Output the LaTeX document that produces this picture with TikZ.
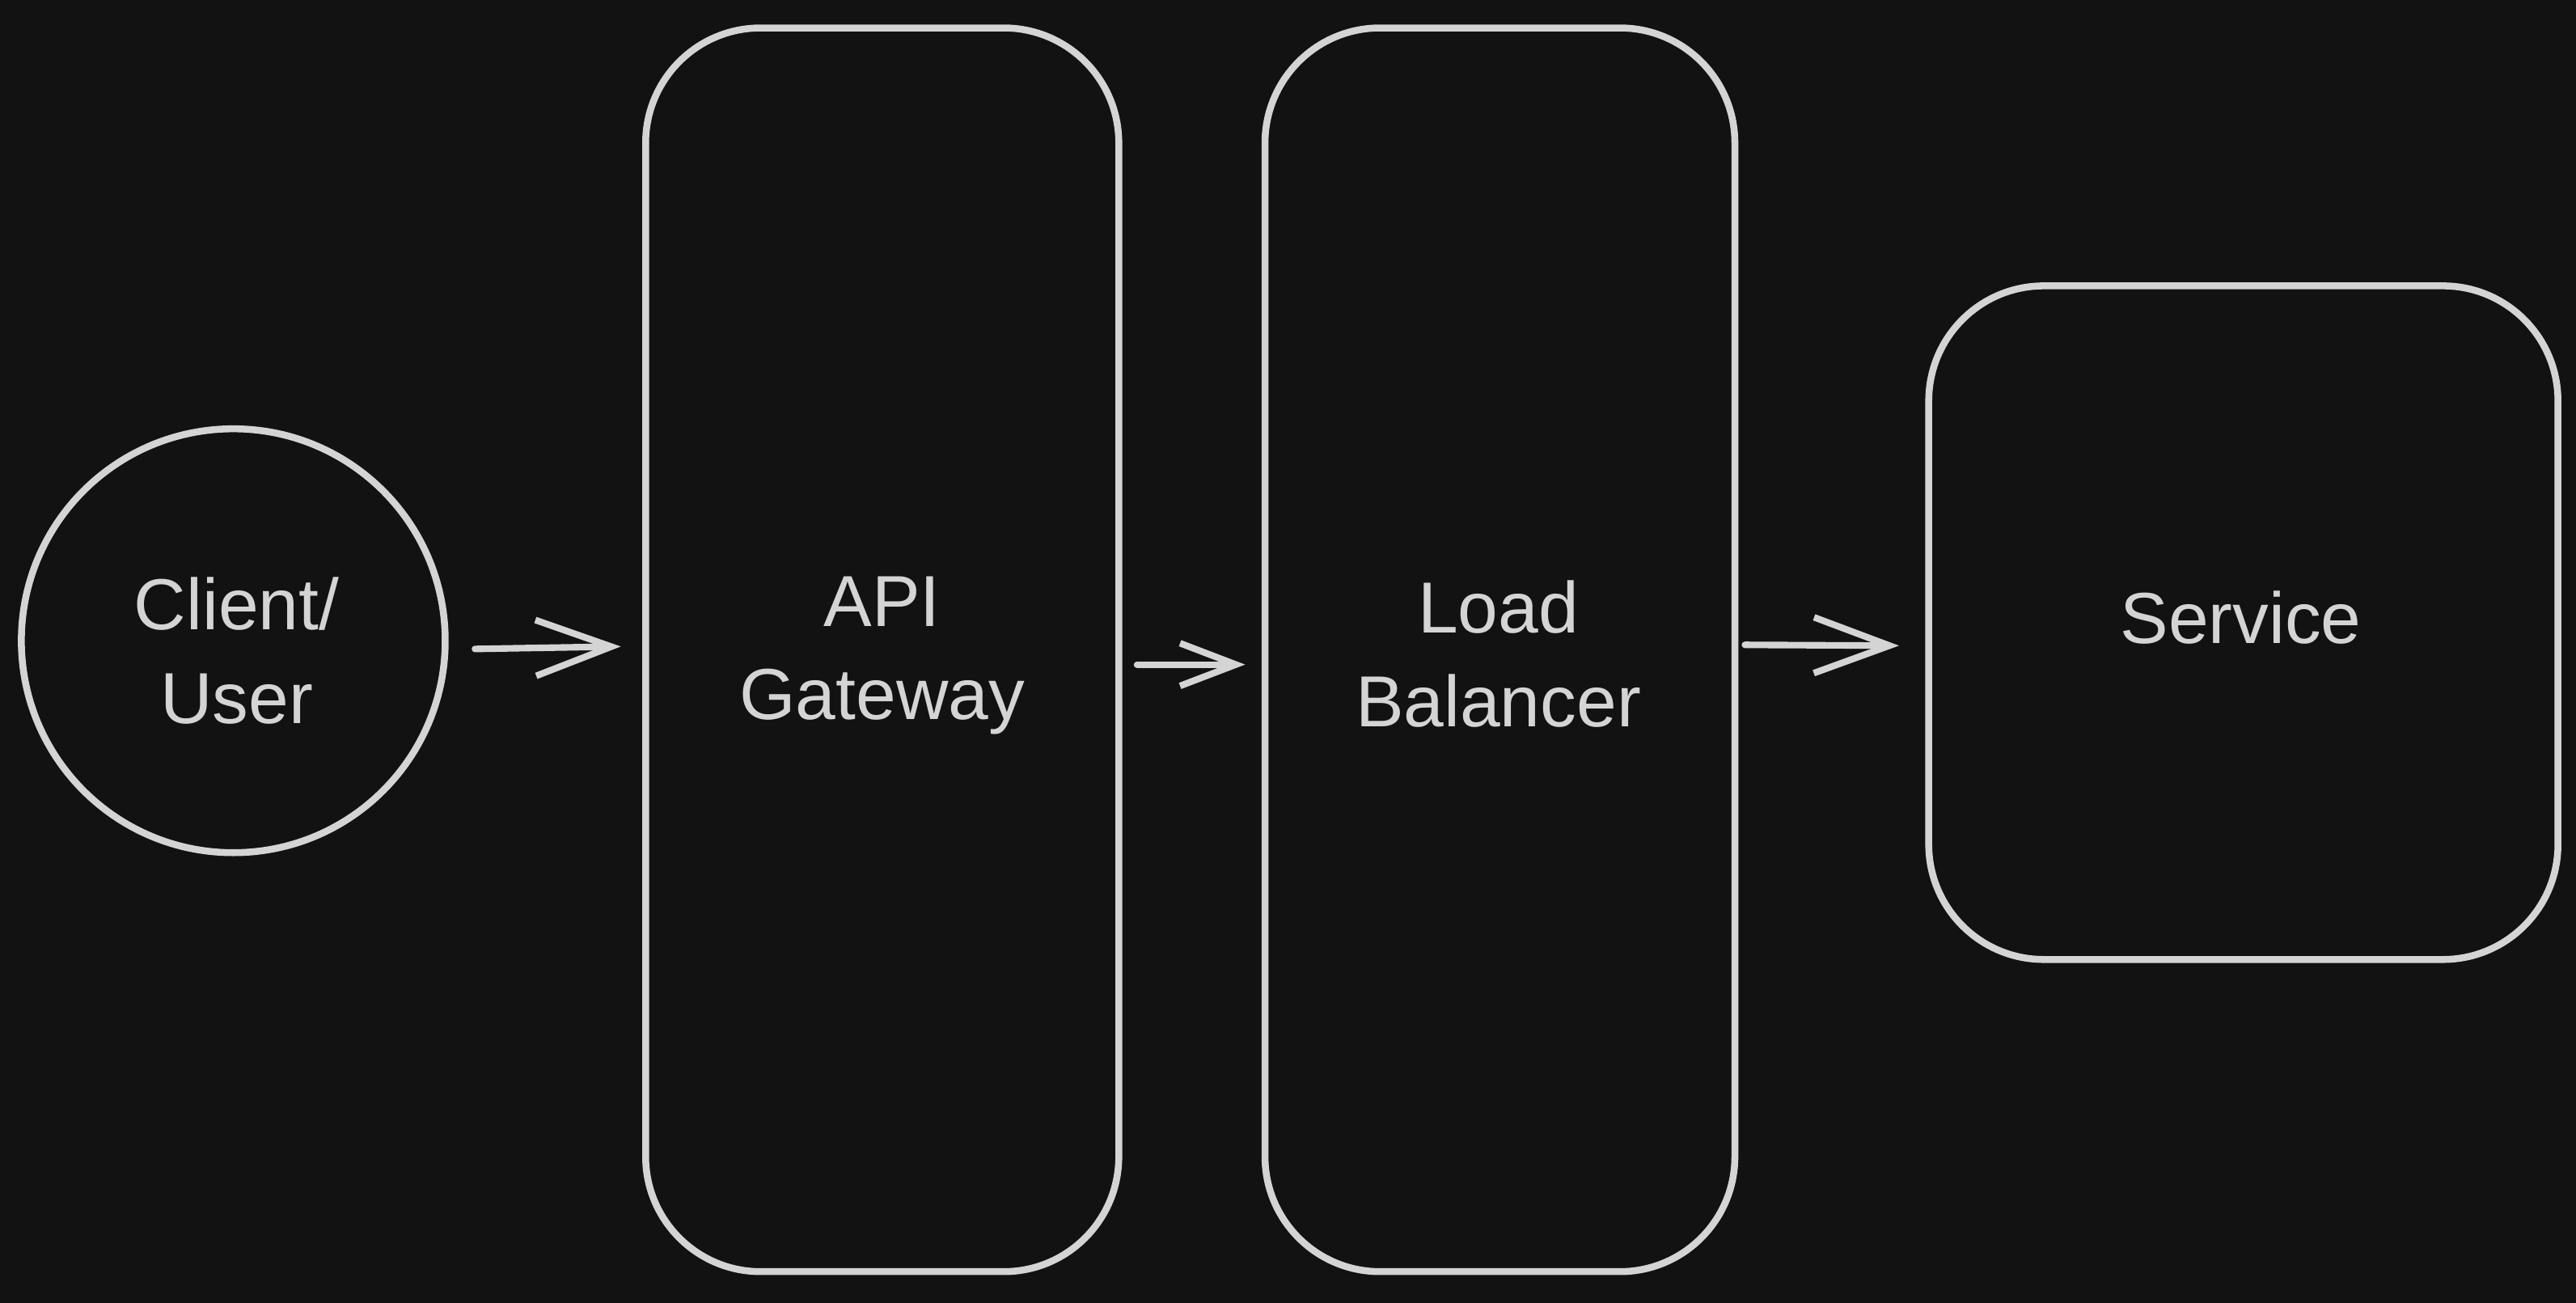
\documentclass[tikz,border=0pt]{standalone}
\usepackage{fontspec}
\setmainfont{Liberation Sans}
\usetikzlibrary{arrows.meta}
\definecolor{bgc}{HTML}{121212}
\definecolor{ink}{HTML}{D4D4D4}
\begin{document}
\begin{tikzpicture}[x=1pt,y=1pt,
  shp/.style={draw=ink,line width=4.2pt,text=ink,inner sep=0pt,align=center,
    font=\fontsize{44}{57}\selectfont},
  boxshape/.style={shp,rectangle,rounded corners=70pt},
  lbl/.style={text=ink,align=center,font=\fontsize{44}{57}\selectfont},
  arr/.style={draw=ink,line width=4pt,line cap=round,line join=round,
    -{Straight Barb[length=46pt,width=34pt,line width=4pt]}},
  arrs/.style={draw=ink,line width=4pt,line cap=round,line join=round,
    -{Straight Barb[length=34pt,width=26pt,line width=4pt]}}]
\fill[bgc] (0,0) rectangle (1568,-793);
\useasboundingbox (0,0) rectangle (1568,-793);
\node[shp,circle,minimum size=258pt] (client) at (142,-390) {};
\node[lbl] (clientt) at (144,-396) {Client/\\User};
\node[boxshape,minimum width=288pt,minimum height=757pt] (api) at (537,-395.5) {};
\node[lbl] (apit) at (537,-399) {API\\Gateway};
\node[boxshape,minimum width=286pt,minimum height=757pt] (lb) at (913,-395.5) {};
\node[lbl] (lbt) at (912,-398) {Load\\Balancer};
\node[boxshape,minimum width=383pt,minimum height=410pt] (svc) at (1365.5,-379) {};
\node[lbl] (svct) at (1364,-376) {Service};
\draw[arr] ([xshift=16pt,yshift=-5pt]client.east) -- ([xshift=-13pt,yshift=2pt]api.west);
\draw[arrs] ([xshift=9pt,yshift=-9pt]api.east) -- ([xshift=-10pt,yshift=-9pt]lb.west);
\draw[arr] ([xshift=4pt,yshift=3pt]lb.east) -- ([xshift=-16pt,yshift=-14pt]svc.west);
\end{tikzpicture}
\end{document}
